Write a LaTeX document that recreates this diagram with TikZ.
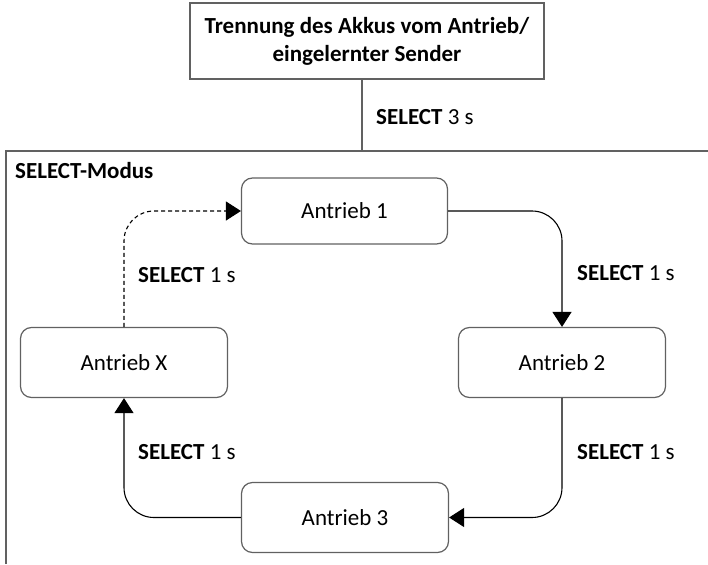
\documentclass[tikz,border=0pt]{standalone}
\usepackage{fontspec}
\setmainfont{Carlito}
\usetikzlibrary{arrows.meta}
\definecolor{boxline}{gray}{0.38}
\begin{document}
\begin{tikzpicture}[x=1pt,y=-1pt,
  font=\fontsize{23}{28}\selectfont,
  box/.style={draw=boxline,line width=1.2pt,fill=white,rounded corners=11pt,minimum width=207pt,minimum height=70pt,inner sep=0pt},
  topbox/.style={draw=boxline,line width=1.2pt,fill=white,minimum width=354pt,minimum height=76pt,align=center,inner sep=0pt},
  conn/.style={draw=black,line width=1.1pt,rounded corners=30pt,-{Triangle[width=19pt,length=15pt]}},
  lbl/.style={anchor=west,inner sep=0pt}
]
\useasboundingbox (0,0) rectangle (708,564);
% frame
\draw[boxline,line width=1.2pt] (6,564) -- (6,151) -- (708,151);
\node[lbl] (modus) at (15,171) {\textbf{SELECT-Modus}};
% top box
\node[topbox] (top) at (367,41) {\textbf{Trennung des Akkus vom Antrieb/}\\\textbf{eingelernter Sender}};
\coordinate (ft) at (362,151);
\draw[boxline,line width=1.2pt] (ft |- top.south) -- (ft);
\node[lbl] (l0) at (376,117) {\textbf{SELECT} 3 s};
% drive boxes
\node[box,minimum width=206pt,minimum height=66pt] (a1) at (344.5,211) {Antrieb 1};
\node[box] (a2) at (562,362.5) {Antrieb 2};
\node[box] (ax) at (124,362.5) {Antrieb X};
\node[box] (a3) at (345,517.5) {Antrieb 3};
% connectors
\draw[conn] (a1.east) -| (a2.north);
\draw[conn] (a2.south) |- (a3.east);
\draw[conn] (a3.west) -| (ax.south);
\draw[conn,dashed,dash pattern=on 4pt off 3pt] (ax.north) |- (a1.west);
% labels
\node[lbl] (l1) at (577,273) {\textbf{SELECT} 1 s};
\node[lbl] (l2) at (577,452) {\textbf{SELECT} 1 s};
\node[lbl] (l3) at (138,452) {\textbf{SELECT} 1 s};
\node[lbl] (l4) at (138,275) {\textbf{SELECT} 1 s};
\end{tikzpicture}
\end{document}
